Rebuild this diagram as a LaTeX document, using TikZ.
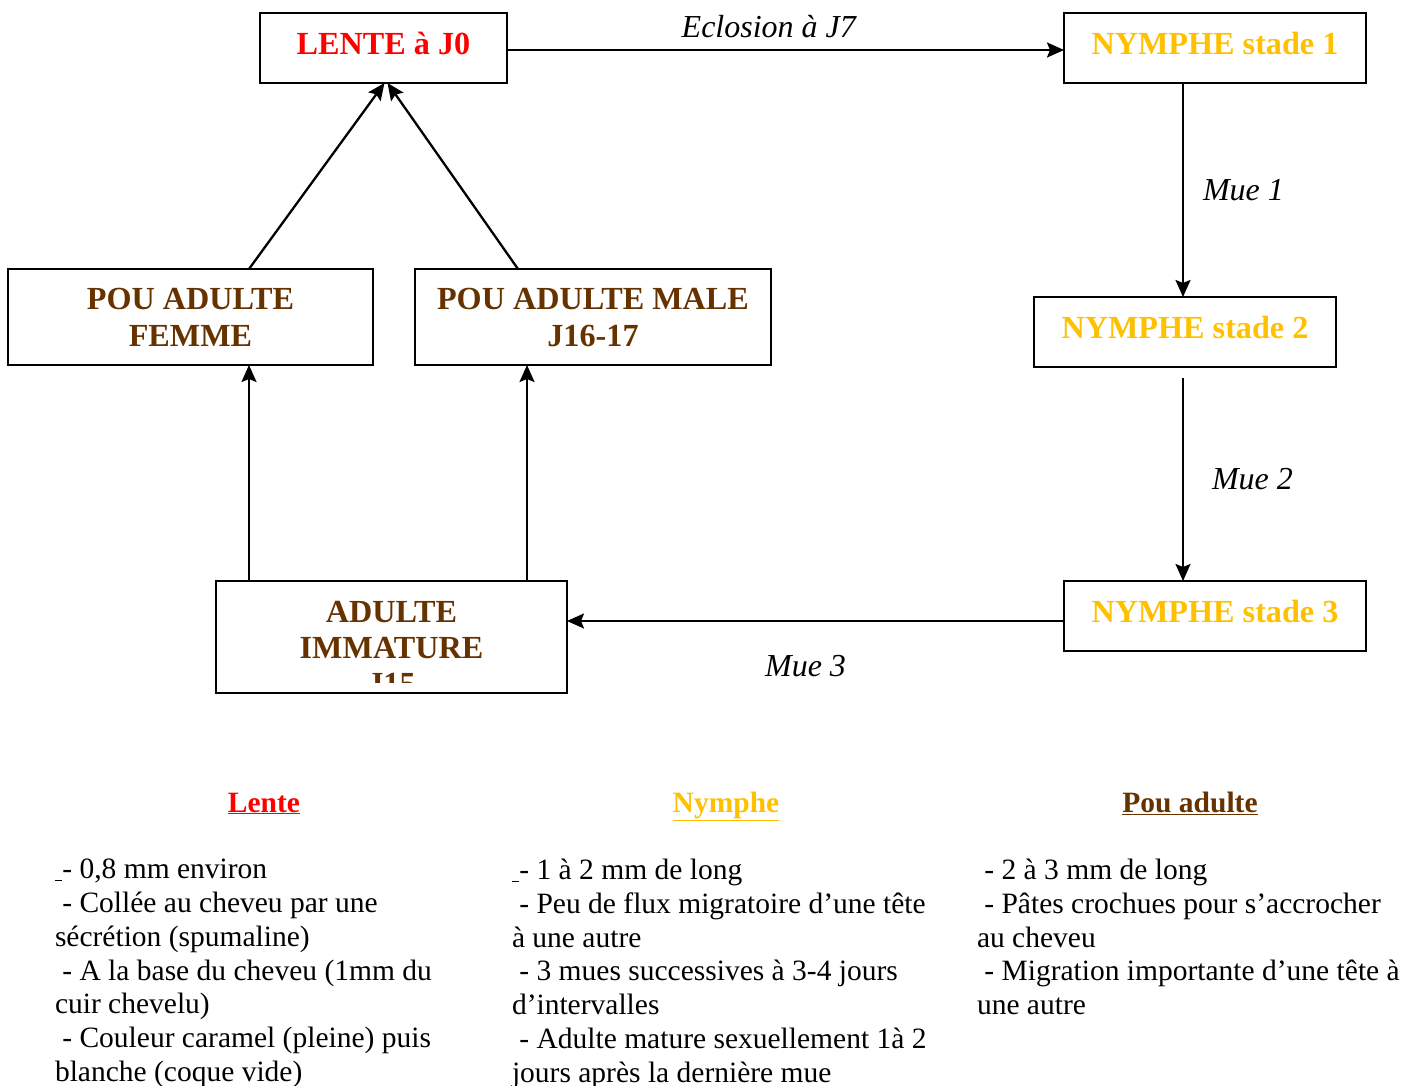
\documentclass[tikz,border=0pt]{standalone}
\usepackage{fontspec}
\setmainfont{Liberation Serif}
\usetikzlibrary{arrows.meta}
\definecolor{lentered}{RGB}{255,0,0}
\definecolor{nymphgold}{RGB}{255,192,0}
\definecolor{poubrown}{RGB}{102,51,0}
\begin{document}
\begin{tikzpicture}[x=1pt,y=-1pt,inner sep=0pt,outer sep=0pt,line width=2.3pt,
cyclearrow/.style={-{Stealth[length=17pt,width=15pt,inset=3pt]}},
stagebox/.style={draw,rectangle,minimum width=302pt,minimum height=70pt,align=center,font=\fontsize{32.2}{37}\selectfont\bfseries},
oneline/.style={text depth=10pt},
edgelabel/.style={font=\fontsize{32}{36}\selectfont\itshape},
heading/.style={anchor=base,font=\fontsize{32.2}{37}\selectfont\bfseries},
legendhead/.style={anchor=base,font=\fontsize{29.5}{34}\selectfont\bfseries},
notes/.style={anchor=north west,align=left,font=\fontsize{29.5}{33.8}\selectfont}]
\useasboundingbox (0,0) rectangle (1414,1086);
% cycle boxes
\draw (383.5,48) node[stagebox,oneline,minimum width=247pt,text=lentered] (lente) {LENTE à J0};
\draw (1215,48) node[stagebox,oneline,text=nymphgold] (nymph1) {NYMPHE stade 1};
\draw (1185,332) node[stagebox,oneline,text=nymphgold] (nymph2) {NYMPHE stade 2};
\draw (1215,616) node[stagebox,oneline,text=nymphgold] (nymph3) {NYMPHE stade 3};
\draw (190.5,317) node[stagebox,minimum width=365pt,minimum height=96pt,text=poubrown] (femme) {POU ADULTE\\FEMME};
\draw (593,317) node[stagebox,minimum width=356pt,minimum height=96pt,text=poubrown] (male) {POU ADULTE MALE\\J16-17};
\draw (391.5,637) node[stagebox,minimum width=351pt,minimum height=112pt] (imm) {};
\begin{scope}
\clip (216,581) rectangle (567,682);
\node[heading,text=poubrown] (immA) at (391.5,622) {ADULTE};
\node[heading,text=poubrown] (immB) at (391.5,658) {IMMATURE};
\node[heading,text=poubrown] (immC) at (391.5,694) {J15};
\end{scope}
% arrows
\draw[cyclearrow] ([yshift=-2pt]lente.east) -- node[pos=0.47,above=12pt,edgelabel] {Eclosion à J7} ([yshift=-2pt]nymph1.west);
\draw[cyclearrow] (1183,0 |- nymph1.south) -- node[right=20pt,edgelabel] {Mue 1} (1183,0 |- nymph2.north);
\draw[cyclearrow] (1183,378) -- node[right=29pt,edgelabel] {Mue 2} (1183,0 |- nymph3.north);
\draw[cyclearrow] ([yshift=-5pt]nymph3.west) -- node[pos=0.52,below=34pt,edgelabel] {Mue 3} ([yshift=-5pt]nymph3.west -| imm.east);
\draw[cyclearrow] (249,0 |- imm.north) -- (249,0 |- femme.south);
\draw[cyclearrow] (527,0 |- imm.north) -- (527,0 |- male.south);
\draw[cyclearrow] (249,0 |- femme.north) -- ([xshift=1pt]lente.south);
\draw[cyclearrow] (518,0 |- male.north) -- ([xshift=4pt]lente.south);
% legend
\node[legendhead,text=lentered] (hlente) at (264,812) {\underline{Lente}};
\node[legendhead,text=nymphgold] (hnymph) at (726,812) {\underline{Nymphe}};
\node[legendhead,text=poubrown] (hpou) at (1190,812) {\underline{Pou adulte}};
\node[notes] (nlente) at (55,859) {\underline{\ }- 0,8 mm environ\\\ - Collée au cheveu par une\\sécrétion (spumaline)\\\ - A la base du cheveu (1mm du\\cuir chevelu)\\\ - Couleur caramel (pleine) puis\\blanche (coque vide)};
\node[notes] (nnymph) at (512,859) {\underline{\ }- 1 à 2 mm de long\\\ - Peu de flux migratoire d’une tête\\à une autre\\\ - 3 mues successives à 3-4 jours\\d’intervalles\\\ - Adulte mature sexuellement 1à 2\\jours après la dernière mue};
\node[notes] (npou) at (977,859) {\ - 2 à 3 mm de long\\\ - Pâtes crochues pour s’accrocher\\au cheveu\\\ - Migration importante d’une tête à\\une autre};
\end{tikzpicture}
\end{document}
